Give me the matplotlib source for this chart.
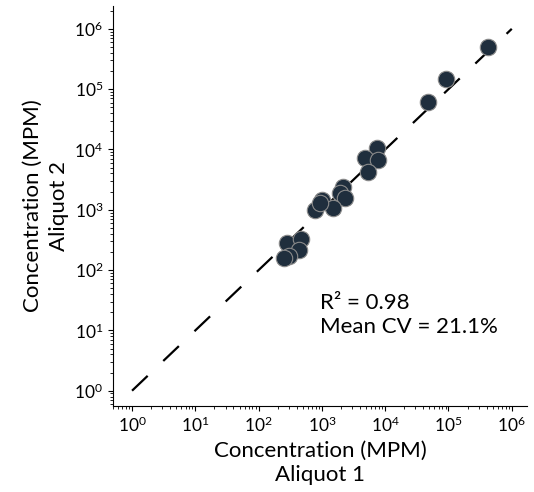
import matplotlib
matplotlib.use('Agg')
import matplotlib.pyplot as plt
import numpy as np

plt.rcParams['font.family'] = ['Lato', 'DejaVu Sans']
plt.rcParams['mathtext.fontset'] = 'custom'
plt.rcParams['mathtext.rm'] = 'Lato'
plt.rcParams['mathtext.it'] = 'Lato'
plt.rcParams['mathtext.bf'] = 'Lato'

# concentration (MPM), log10 values
aliquot1_log = [5.62, 4.96, 4.67, 3.87, 3.68, 3.88, 3.73, 3.33, 3.28, 3.36,
                3.00, 3.17, 2.89, 2.97, 2.45, 2.67, 2.64, 2.48, 2.40]
aliquot2_log = [5.70, 5.17, 4.79, 4.03, 3.86, 3.83, 3.63, 3.38, 3.28, 3.20,
                3.17, 3.03, 3.00, 3.12, 2.45, 2.52, 2.34, 2.24, 2.20]
aliquot1 = 10 ** np.array(aliquot1_log)
aliquot2 = 10 ** np.array(aliquot2_log)

r2_text = 'R² = 0.98\nMean CV = 21.1%'

fig = plt.figure(figsize=(5.34, 4.92), dpi=100)
ax = fig.add_axes([0.2116, 0.175, 0.775, 0.813])

# identity line
ax.plot([1, 1e6], [1, 1e6], color='black', lw=1.6, dashes=(9.7, 9.7), zorder=1)

ax.scatter(aliquot1, aliquot2, s=140, color='#1f2e3d', edgecolors='#8a8a8a',
           linewidths=0.8, zorder=2)

ax.set_xscale('log')
ax.set_yscale('log')
ax.set_xlim(0.5, 1.73e6)
ax.set_ylim(0.56, 2.4e6)
ax.set_xticks([10 ** i for i in range(7)])
ax.set_yticks([10 ** i for i in range(7)])

ax.spines['top'].set_visible(False)
ax.spines['right'].set_visible(False)
ax.tick_params(axis='both', which='major', labelsize=12.5, length=3.5, width=0.8)
ax.tick_params(axis='both', which='minor', length=2, width=0.6)

ax.set_xlabel('Concentration (MPM)\nAliquot 1', fontsize=16, labelpad=4,
              linespacing=1.3)
ax.set_ylabel('Concentration (MPM)\nAliquot 2', fontsize=16, labelpad=4,
              linespacing=1.4)

ax.text(10 ** 2.97, 10 ** 1.25, r2_text, fontsize=16, va='center', ha='left',
        linespacing=1.25)

plt.savefig('out.png', dpi=100)
plt.close()
